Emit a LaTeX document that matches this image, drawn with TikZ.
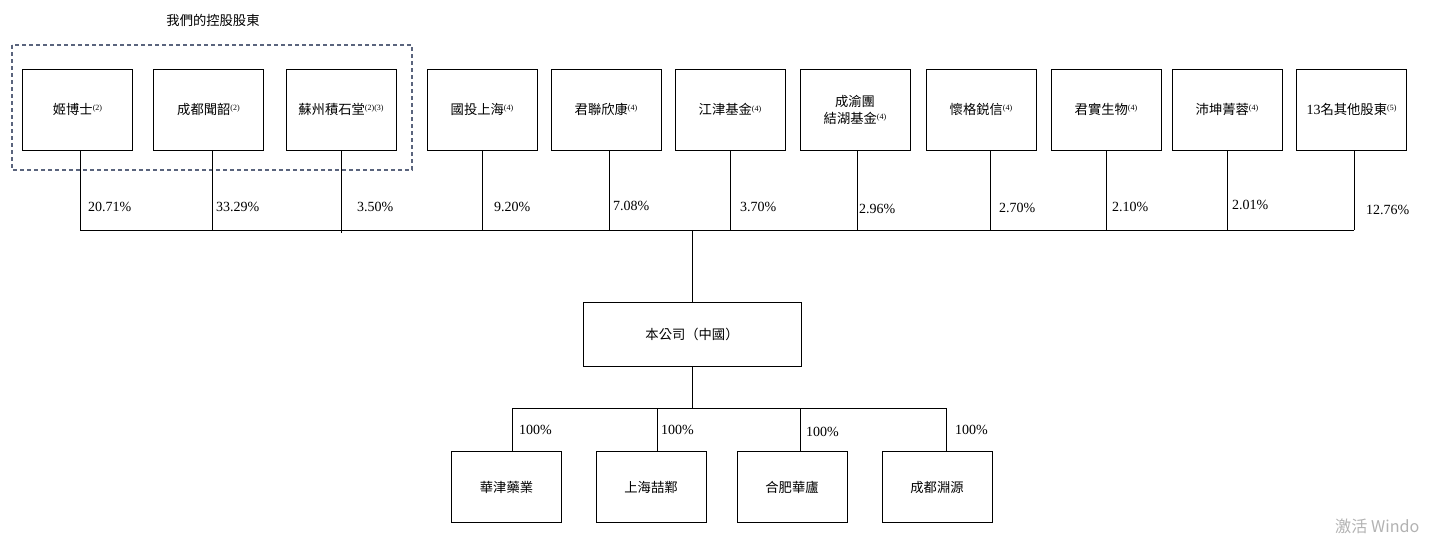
\documentclass[tikz,border=0pt]{standalone}
\usepackage{fontspec}
\setmainfont{Liberation Serif}
\newfontfamily\cjk{Noto Sans CJK TC}[Scale=0.95]
\begin{document}
\begin{tikzpicture}[x=1pt,y=-1pt,
  box/.style={draw,thick,minimum width=110pt,minimum height=81pt,inner sep=0pt,font=\fontsize{14}{17}\selectfont\cjk,align=center},
  sbox/.style={draw,thick,minimum width=110pt,minimum height=71pt,inner sep=0pt,font=\fontsize{14}{17}\selectfont\cjk},
  pct/.style={font=\fontsize{14}{16}\selectfont,anchor=west,inner sep=0pt},
  ln/.style={draw,line width=0.8pt}]
\useasboundingbox (0,0) rectangle (1436,538);
\newcommand{\fn}[1]{\raisebox{0.5ex}{\fontsize{8}{9}\selectfont\rmfamily(#1)}}
\node[font=\fontsize{14}{16}\selectfont\cjk] (title) at (213,20) {我們的控股股東};
\draw[dashed,line width=1.2pt,dash pattern=on 4pt off 3pt,color={rgb,255:red,90;green,100;blue,125}] (12,45) rectangle (412,170);
\node[box] (a1) at (77.5,109.5) {姬博士\fn{2}};
\node[box] (a2) at (208.5,109.5) {成都聞韶\fn{2}};
\node[box] (a3) at (341,109.5) {蘇州積石堂\fn{2}\fn{3}};
\node[box] (a4) at (482,109.5) {國投上海\fn{4}};
\node[box] (a5) at (606,109.5) {君聯欣康\fn{4}};
\node[box] (a6) at (730,109.5) {江津基金\fn{4}};
\node[box] (a7) at (855,109.5) {成渝團\\結湖基金\fn{4}};
\node[box] (a8) at (981,109.5) {懷格鋭信\fn{4}};
\node[box] (a9) at (1106,109.5) {君實生物\fn{4}};
\node[box] (a10) at (1227,109.5) {沛坤菁蓉\fn{4}};
\node[box] (a11) at (1351.5,109.5) {{\rmfamily 13}名其他股東\fn{5}};
\coordinate (j) at (692,230);
\foreach \n/\x in {a1/80,a2/212,a3/341,a4/482,a5/609,a6/730,a7/857,a8/990,a9/1106,a10/1227,a11/1354}
  \draw[ln] (\x,150) -- (\x,230);
\draw[ln] (341,230) -- (341,233);
\draw[ln] (80,230) -- (1354,230);
\node[box,minimum width=218pt,minimum height=64pt] (co) at (692,334) {本公司（中國）};
\draw[ln] (j) -- (co.north);
\draw[ln] (co.south) -- (692,408);
\draw[ln] (512,408) -- (946,408);
\node[sbox] (b1) at (506.5,487) {華津藥業};
\node[sbox] (b2) at (651,487) {上海喆鄴};
\node[sbox] (b3) at (792,487) {合肥華廬};
\node[sbox] (b4) at (937,487) {成都淵源};
\foreach \x in {512,657,800,946} \draw[ln] (\x,408) -- (\x,451);
\foreach \x/\t/\y in {88/20.71/207,216/33.29/207,357/3.50/207,494/9.20/207,613/7.08/206,740/3.70/207,859/2.96/209,999/2.70/208,1112/2.10/207,1232/2.01/205,1366/12.76/210}
  \node[pct] at (\x,\y) {\t\%};
\foreach \x/\y in {519/430,661/430,806/432,955/430}
  \node[pct] at (\x,\y) {100\%};
\node[anchor=west,inner sep=0pt,text=black!30,font=\fontsize{17}{19}\selectfont\cjk] at (1335,526) {激活 Windo};
\end{tikzpicture}
\end{document}
